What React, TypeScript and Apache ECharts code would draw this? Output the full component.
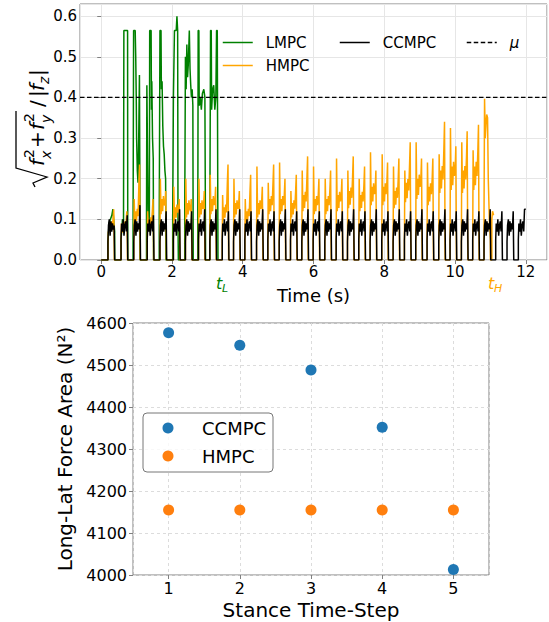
import React, { useEffect, useRef } from 'react';
import * as echarts from 'echarts';

const FONT = '"DejaVu Sans", "Noto Sans", sans-serif';

// ---------------- Top panel data (time in s, ratio) ----------------
// stance onset times of the gait (read from the CCMPC pulses)
const ccOnsets = [
  0.19, 0.56, 0.92, 1.30, 1.66, 2.04, 2.38, 2.75, 3.07,
  3.42, 3.74, 4.06, 4.39, 4.71, 5.03, 5.35, 5.67, 5.99, 6.32, 6.64, 6.96,
  7.28, 7.60, 7.93, 8.25, 8.57, 8.89, 9.21, 9.54, 9.86, 10.18, 10.50, 10.82,
  11.15, 11.47, 11.79,
];
// end-of-stance spike of each CCMPC pulse
const ccPeaks = [
  0.085, 0.11, 0.135, 0.11, 0.12, 0.125, 0.12, 0.125, 0.125,
  0.12, 0.125, 0.12, 0.125, 0.12, 0.125, 0.12, 0.125, 0.12, 0.125, 0.12, 0.125,
  0.12, 0.125, 0.12, 0.125, 0.12, 0.125, 0.12, 0.125, 0.12, 0.125, 0.12, 0.125,
  0.12, 0.12, 0.125,
];
const STANCE = 0.19;
const ccFrac = [0, 0.08, 0.2, 0.32, 0.44, 0.56, 0.68, 0.8];
const ccShapeA = [0.045, 0.085, 0.1, 0.06, 0.095, 0.07, 0.09, 0.075];
const ccShapeB = [0.05, 0.09, 0.07, 0.1, 0.06, 0.085, 0.095, 0.07];

// HMPC pulses (same gait schedule): early peak, mid level, late peak
const hmP1 = [
  0.07, 0.09, 0.15, 0.12, 0.20, 0.18, 0.20, 0.20, 0.21, 0.16,
  0.20, 0.15, 0.23, 0.19, 0.24, 0.17, 0.22, 0.23, 0.20, 0.25,
  0.22, 0.20, 0.265, 0.26, 0.23, 0.22, 0.29, 0.24, 0.26, 0.325,
  0.29, 0.27,
];
const hmMid = [
  0.09, 0.09, 0.12, 0.10, 0.15, 0.13, 0.14, 0.14, 0.15, 0.13,
  0.14, 0.12, 0.14, 0.15, 0.15, 0.14, 0.16, 0.15, 0.15, 0.16,
  0.17, 0.16, 0.18, 0.18, 0.17, 0.19, 0.20, 0.18, 0.22, 0.23,
  0.22, 0.23,
];
const hmP2 = [
  0.125, 0.12, 0.235, 0.15, 0.17, 0.15, 0.15, 0.17, 0.18, 0.235,
  0.17, 0.21, 0.18, 0.235, 0.20, 0.21, 0.255, 0.20, 0.22, 0.20,
  0.255, 0.23, 0.22, 0.24, 0.25, 0.29, 0.25, 0.25, 0.34, 0.28,
  0.317, 0.333,
];
const hmFrac = [0, 0.06, 0.16, 0.28, 0.4, 0.52, 0.64, 0.76, 0.86, 0.94];
const hmTail: [number, number][] = [
  [10.82, 0], [10.82, 0.12], [10.835, 0.397], [10.855, 0.3], [10.875, 0.33],
  [10.895, 0.358], [10.92, 0.35], [10.94, 0.2], [10.97, 0.1], [11.0, 0.05],
  [11.0, 0], [11.04, 0], [11.04, 0.1], [11.06, 0.12], [11.09, 0.11],
];

// LMPC (read point by point)
const lmpc: [number, number][] = [
  [0, 0], [0.19, 0], [0.19, 0.04], [0.22, 0.09], [0.26, 0.1], [0.3, 0.11], [0.33, 0.125], [0.36, 0.09], [0.38, 0.07], [0.38, 0],
  [0.56, 0], [0.56, 0.05], [0.6, 0.1], [0.63, 0.09], [0.64, 0.565], [0.745, 0.565], [0.75, 0],
  [0.9, 0], [0.9, 0.08], [0.915, 0.565], [0.96, 0.565], [0.975, 0.5], [0.99, 0.4], [1.0, 0.3], [1.02, 0.22], [1.04, 0.19], [1.06, 0.3], [1.08, 0.455], [1.09, 0.25], [1.1, 0],
  [1.28, 0], [1.28, 0.1], [1.29, 0.43], [1.31, 0.25], [1.33, 0.09], [1.36, 0.1], [1.37, 0.565], [1.41, 0.565], [1.42, 0.37], [1.43, 0.44], [1.45, 0.3], [1.47, 0.25], [1.48, 0],
  [1.64, 0], [1.64, 0.1], [1.66, 0.565], [1.69, 0.565], [1.7, 0.42], [1.72, 0.44], [1.74, 0.33], [1.76, 0.28], [1.78, 0.26], [1.8, 0.22], [1.82, 0.2], [1.83, 0],
  [2.02, 0], [2.02, 0.1], [2.04, 0.4], [2.07, 0.565], [2.12, 0.565], [2.14, 0.6], [2.16, 0.565], [2.17, 0.1], [2.18, 0],
  [2.36, 0], [2.36, 0.1], [2.38, 0.5], [2.4, 0.42], [2.42, 0.53], [2.44, 0.45], [2.46, 0.48], [2.49, 0.565], [2.51, 0.47], [2.53, 0.43], [2.55, 0.4], [2.57, 0.42], [2.59, 0.38], [2.6, 0],
  [2.73, 0], [2.73, 0.1], [2.74, 0.565], [2.76, 0.565], [2.77, 0.38], [2.8, 0.4], [2.83, 0.37], [2.86, 0.41], [2.9, 0.42], [2.93, 0.4], [2.95, 0],
  [3.07, 0], [3.07, 0.1], [3.09, 0.565], [3.11, 0.565], [3.12, 0.37], [3.15, 0.42], [3.18, 0.43], [3.21, 0.37], [3.24, 0.4], [3.26, 0.565], [3.28, 0.565], [3.3, 0],
];
const MU = 0.4;
const timeRange = [-0.6, 12.6];

// ---------------- Bottom panel data ----------------
const steps = [1, 2, 3, 4, 5];
const ccArea = [4577, 4547, 4488, 4352, 4013];
const hmArea = [4155, 4155, 4155, 4155, 4155];

function buildCC(): [number, number][] {
  const pts: [number, number][] = [[0, 0]];
  ccOnsets.forEach((t0, i) => {
    const shape = i % 2 === 0 ? ccShapeA : ccShapeB;
    pts.push([t0, 0]);
    ccFrac.forEach((f, k) => pts.push([t0 + f * STANCE, shape[k]]));
    pts.push([t0 + 0.92 * STANCE, ccPeaks[i]]);
    if (i === ccOnsets.length - 1) {
      pts.push([12, ccPeaks[i]]);
    } else {
      pts.push([t0 + STANCE, ccPeaks[i]]);
      pts.push([t0 + STANCE, 0]);
    }
  });
  return pts;
}

function buildHM(): [number, number][] {
  const pts: [number, number][] = [[0, 0]];
  hmP1.forEach((p1, i) => {
    const t0 = ccOnsets[i];
    const m = hmMid[i];
    const p2 = hmP2[i];
    const vals = [0.04, p1, m * 0.75, m, m * 0.8, m * 1.05, m * 0.9, p2 * 0.8, p2, 0.04];
    pts.push([t0, 0]);
    hmFrac.forEach((f, k) => pts.push([t0 + f * STANCE, vals[k]]));
    pts.push([t0 + 0.95 * STANCE, 0]);
  });
  hmTail.forEach((p) => pts.push(p));
  return pts;
}

const txt = (text: string, x: number, y: number, font: string, fill = '#000') => ({
  type: 'text',
  x,
  y,
  style: { text, font, fill, textAlign: 'left', textVerticalAlign: 'middle' },
});

export default function App() {
  const ref = useRef<HTMLDivElement>(null);
  useEffect(() => {
    const chart = echarts.init(ref.current!, undefined, { renderer: 'svg' });
    const I20 = `italic 20px ${FONT}`;
    const I14 = `italic 14px ${FONT}`;
    const N20 = `20px ${FONT}`;
    const N14 = `14px ${FONT}`;
    const legendCommon = () => ({
      orient: 'vertical',
      top: 35,
      padding: 0,
      itemWidth: 30,
      itemHeight: 15,
      itemGap: 8,
      selectedMode: false,
      itemStyle: { opacity: 0 },
      lineStyle: { width: 1.5 },
      textStyle: { fontFamily: FONT, fontSize: 15, color: '#000', padding: [0, 0, 0, 8] },
    });
    const option: any = {
      animation: false,
      backgroundColor: '#fff',
      textStyle: { fontFamily: FONT },
      grid: [
        { left: 80, top: 4, width: 467, height: 256, show: true, borderColor: '#808080', borderWidth: 1, backgroundColor: 'transparent' },
        { left: 133, top: 323, width: 356, height: 252, show: true, borderColor: '#808080', borderWidth: 1, backgroundColor: 'transparent' },
      ],
      xAxis: [
        {
          type: 'value', gridIndex: 0, min: timeRange[0], max: timeRange[1], splitNumber: 7, minInterval: 2, maxInterval: 2,
          name: 'Time (s)', nameLocation: 'middle', nameGap: 26,
          nameTextStyle: { fontSize: 18, color: '#000', fontFamily: FONT },
          axisLine: { show: false },
          axisTick: { show: true, length: 4, lineStyle: { color: '#808080' } },
          axisLabel: { fontSize: 15, color: '#000', margin: 4, showMinLabel: false, showMaxLabel: false, fontFamily: FONT },
          splitLine: { show: true, lineStyle: { color: '#e6e6e6', width: 1 } },
        },
        {
          type: 'value', gridIndex: 1, min: 0.5, max: 5.5, splitNumber: 5, minInterval: 1, maxInterval: 1,
          name: 'Stance Time-Step', nameLocation: 'middle', nameGap: 25,
          nameTextStyle: { fontSize: 20, color: '#000', fontFamily: FONT },
          axisLine: { show: false },
          axisTick: { show: true, length: 4, lineStyle: { color: '#808080' } },
          axisLabel: { fontSize: 16, color: '#000', margin: 5, showMinLabel: false, showMaxLabel: false, fontFamily: FONT },
          splitLine: { show: true, lineStyle: { color: '#dcdcdc', width: 1, type: [3, 3] } },
        },
      ],
      yAxis: [
        {
          type: 'value', gridIndex: 0, min: 0, max: 0.63, interval: 0.1,
          axisLine: { show: false },
          axisTick: { show: true, length: 4, lineStyle: { color: '#808080' } },
          axisLabel: { fontSize: 15, color: '#000', margin: 3, showMaxLabel: false, fontFamily: FONT, formatter: (v: number) => v.toFixed(1) },
          splitLine: { show: true, lineStyle: { color: '#e6e6e6', width: 1 } },
        },
        {
          type: 'value', gridIndex: 1, min: 4000, max: 4600, interval: 100,
          name: 'Long-Lat Force Area (N²)', nameLocation: 'middle', nameGap: 39, nameRotate: 90,
          nameTextStyle: { fontSize: 20, color: '#000', fontFamily: FONT },
          axisLine: { show: false },
          axisTick: { show: true, length: 4, lineStyle: { color: '#808080' } },
          axisLabel: { fontSize: 16, color: '#000', margin: 6, fontFamily: FONT, formatter: (v: number) => String(v) },
          splitLine: { show: true, lineStyle: { color: '#dcdcdc', width: 1, type: [3, 3] } },
        },
      ],
      legend: [
        { ...legendCommon(), left: 222, data: ['LMPC', 'HMPC'] },
        { ...legendCommon(), left: 339, data: ['CCMPC'] },
        { ...legendCommon(), left: 466, data: [{ name: 'μ', textStyle: { fontStyle: 'italic' } }] },
      ],
      series: [
        {
          name: 'LMPC', type: 'line', xAxisIndex: 0, yAxisIndex: 0, data: lmpc, symbol: 'none',
          lineStyle: { color: '#008000', width: 1.5 }, itemStyle: { color: '#008000' },
        },
        {
          name: 'HMPC', type: 'line', xAxisIndex: 0, yAxisIndex: 0, data: buildHM(), symbol: 'none',
          lineStyle: { color: '#ffa500', width: 1.5 }, itemStyle: { color: '#ffa500' },
        },
        {
          name: 'CCMPC', type: 'line', xAxisIndex: 0, yAxisIndex: 0, data: buildCC(), symbol: 'none',
          lineStyle: { color: '#000000', width: 1.5 }, itemStyle: { color: '#000000' },
        },
        {
          name: 'μ', type: 'line', xAxisIndex: 0, yAxisIndex: 0, symbol: 'none',
          data: [[timeRange[0], MU], [timeRange[1], MU]],
          lineStyle: { color: '#000000', width: 1.3, type: [4.5, 2.5] }, itemStyle: { color: '#000000' },
        },
        {
          name: 'CCMPC', type: 'scatter', xAxisIndex: 1, yAxisIndex: 1, symbolSize: 11,
          data: steps.map((s, i) => [s, ccArea[i]]), itemStyle: { color: '#1f77b4', opacity: 1 },
        },
        {
          name: 'HMPC', type: 'scatter', xAxisIndex: 1, yAxisIndex: 1, symbolSize: 11,
          data: steps.map((s, i) => [s, hmArea[i]]), itemStyle: { color: '#ff7f0e', opacity: 1 },
        },
      ],
      graphic: [
        // rotated math y-label of the top panel
        {
          type: 'group', x: 44, y: 187, rotation: Math.PI / 2,
          children: [
            { type: 'polyline', shape: { points: [[0, -9], [4, -11], [10, 3], [19, -28], [76, -28]] }, style: { stroke: '#000', lineWidth: 1.3, fill: 'none' } },
            txt('f', 21, -7, I20),
            txt('2', 29, -15, N14),
            txt('x', 28, 2, I14),
            txt('+', 39, -7, N20),
            txt('f', 57, -7, I20),
            txt('2', 65, -15, N14),
            txt('y', 64, 2, I14),
            txt('/', 80, -7, N20),
            txt('|', 90, -7, N20),
            txt('f', 96, -7, I20),
            txt('z', 103, 0, I14),
            txt('|', 111, -7, N20),
          ],
        },
        txt('t', 216, 283, `italic 16px ${FONT}`, '#008000'),
        txt('L', 222, 288, `italic 11px ${FONT}`, '#008000'),
        txt('t', 488, 283, `italic 16px ${FONT}`, '#ffa500'),
        txt('H', 494, 288, `italic 11px ${FONT}`, '#ffa500'),
        // legend of the bottom panel
        { type: 'rect', z: 10, shape: { x: 143, y: 413, width: 130, height: 59, r: 4 }, style: { fill: 'rgba(255,255,255,0.8)', stroke: '#777', lineWidth: 1 } },
        { type: 'circle', z: 11, shape: { cx: 168, cy: 428, r: 5.5 }, style: { fill: '#1f77b4' } },
        { type: 'circle', z: 11, shape: { cx: 168, cy: 456, r: 5.5 }, style: { fill: '#ff7f0e' } },
        { ...txt('CCMPC', 202, 428, `18px ${FONT}`), z: 11 },
        { ...txt('HMPC', 202, 456, `18px ${FONT}`), z: 11 },
      ],
    };
    chart.setOption(option);
    return () => chart.dispose();
  }, []);
  return (
    <div
      ref={ref}
      style={{ position: 'fixed', left: 0, top: 0, width: 549, height: 622, background: '#fff' }}
    />
  );
}
